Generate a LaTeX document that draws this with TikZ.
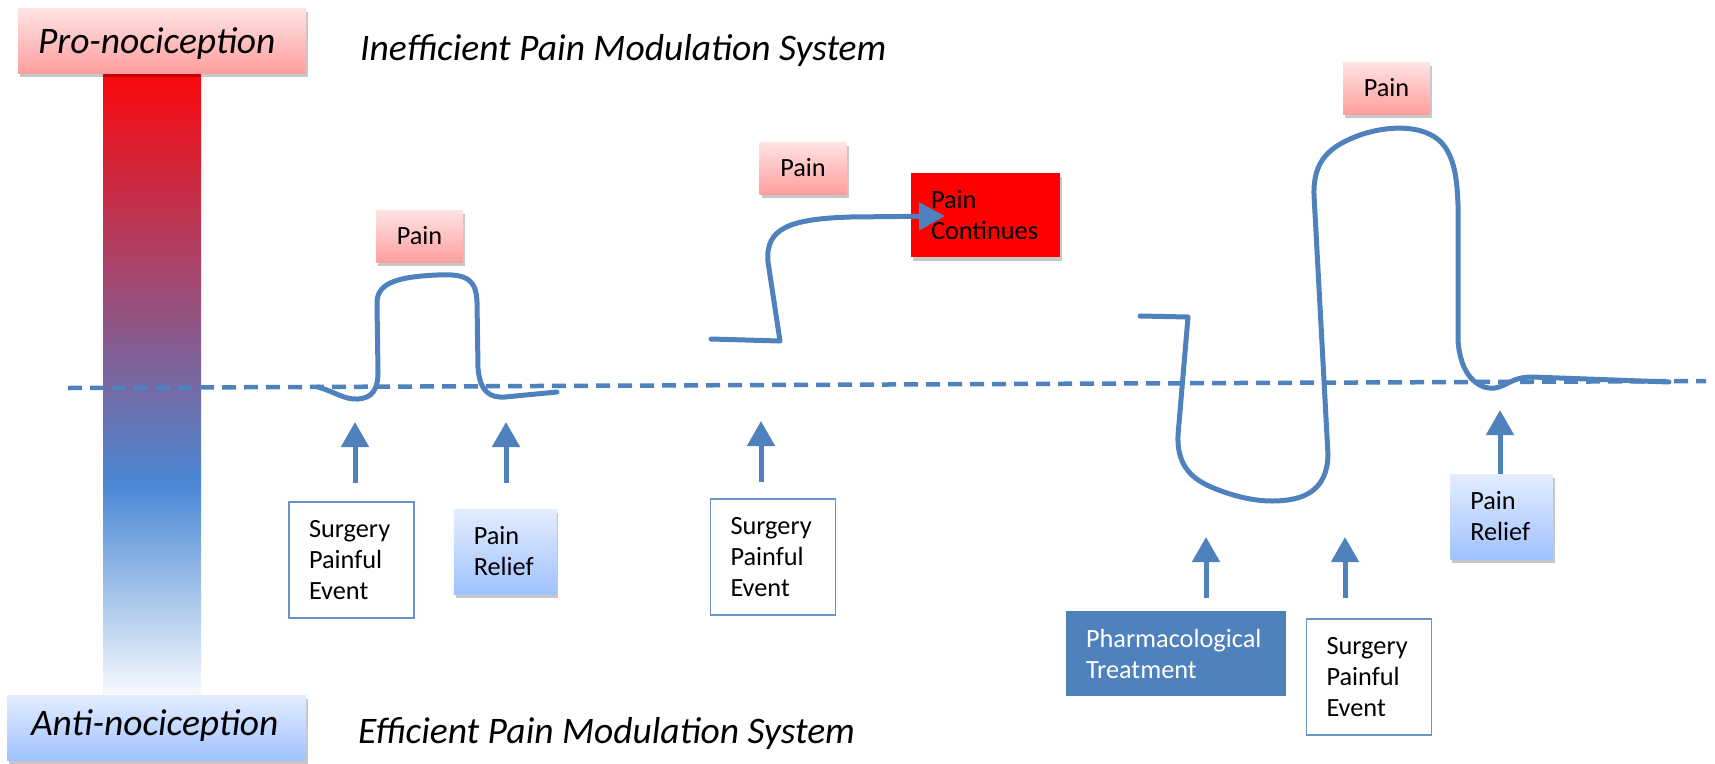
\documentclass[tikz,border=0pt]{standalone}
\usepackage{fontspec}
\setmainfont{Carlito}
\usetikzlibrary{arrows.meta,shadows}
\definecolor{lineblue}{RGB}{79,129,189}
\definecolor{pinktop}{RGB}{255,228,228}
\definecolor{pinkbot}{RGB}{255,158,158}
\definecolor{bluetop}{RGB}{228,237,255}
\definecolor{bluebot}{RGB}{160,194,255}
\definecolor{barred}{RGB}{252,6,10}
\definecolor{barblue}{RGB}{74,136,212}
\definecolor{barwhite}{RGB}{250,252,255}
\definecolor{boxred}{RGB}{255,0,0}
\pgfdeclareverticalshading{nocibar}{100bp}{color(0bp)=(barwhite); color(25bp)=(barwhite); color(42bp)=(barblue); color(75bp)=(barred); color(100bp)=(barred)}
\begin{document}
\begin{tikzpicture}[x=1pt,y=-1pt,
  txt/.style={font=\fontsize{26.3}{31}\selectfont},
  bigtxt/.style={font=\fontsize{37.5}{44}\selectfont\itshape},
  shd/.style={drop shadow={shadow xshift=2pt,shadow yshift=-4pt,opacity=0.22,fill=black}},
  painbox/.style={txt, shd, top color=pinktop, bottom color=pinkbot, minimum width=87pt, minimum height=52pt, inner sep=0pt},
  reliefbox/.style={txt, shd, top color=bluetop, bottom color=bluebot, inner xsep=20pt, align=left, text width=62.5pt, minimum height=85pt},
  eventbox/.style={txt, draw=lineblue!85, line width=1.3pt, fill=white, inner xsep=20pt, align=left, text width=85pt, minimum height=116pt},
  contbox/.style={txt, shd, fill=boxred, inner xsep=20pt, align=left, text width=109pt, minimum height=84pt},
  pharmabox/.style={txt, fill=lineblue, text=white, inner xsep=20pt, align=left, text width=180pt, minimum height=85pt},
  scalebox/.style={bigtxt, shd, inner ysep=0pt, minimum height=65pt, align=left},
  curve/.style={draw=lineblue, line width=5pt, line cap=round, line join=round},
  uparrow/.style={draw=lineblue, line width=5pt, -{Triangle[width=27pt,length=25pt]}},
  baseline/.style={draw=lineblue, line width=4.5pt, dash pattern=on 14pt off 8pt}
]
\useasboundingbox (0,0) rectangle (1715,763);

% gradient scale bar
\path[shading=nocibar] (103,70) rectangle (201,698);
\node[scalebox, top color=pinktop, bottom color=pinkbot, minimum width=288pt, inner xsep=20pt, text width=248pt, text height=27pt, text depth=2pt] (pro) at (162,40.5) {Pro-nociception};
\node[scalebox, top color=bluetop, bottom color=bluebot, minimum width=299pt, inner xsep=24pt, text width=251pt, text height=24pt, text depth=9pt] (anti) at (156.5,727.5) {Anti-nociception};

% titles
\node[bigtxt, anchor=base west, inner sep=0pt] (ineff) at (360,60) {Inefficient Pain Modulation System};
\node[bigtxt, anchor=base west, inner sep=0pt] (eff) at (358,743) {Efficient Pain Modulation System};

% baseline
\coordinate (bl) at (68,388);
\coordinate (br) at (1706,381);
\draw[baseline] (bl) -- (br);

% ---------- section 1 ----------
\node[painbox] (p1) at (419.5,236) {Pain};
\draw[curve] (318,387) .. controls (335,392) and (345,400) .. (358,399)
  .. controls (372,398) and (378,390) .. (378,372) -- (377,305)
  .. controls (376,285) and (392,277) .. (437,275)
  .. controls (470,273) and (476,282) .. (477,302) -- (478,368)
  .. controls (480,392) and (490,398) .. (505,397) -- (557,392);
\node[eventbox] (s1) at (351.5,560) {Surgery\\Painful\\Event};
\node[reliefbox] (r1) at (505,551.5) {Pain\\Relief};
\coordinate (a1b) at (355,483); \coordinate (a1t) at (355,422);
\coordinate (a2b) at (506,483); \coordinate (a2t) at (506,422);
\draw[uparrow] (a1b) -- (a1t);
\draw[uparrow] (a2b) -- (a2t);

% ---------- section 2 ----------
\node[painbox] (p2) at (803,168) {Pain};
\node[contbox] (cont) at (985.5,215) {Pain\\Continues};
\coordinate (cend) at (945,216);
\draw[curve, -{Triangle[width=27pt,length=26pt]}] (711,339) -- (780,341) -- (768,262)
  .. controls (765,228) and (790,219) .. (850,217) -- (cend);
\node[eventbox] (s2) at (773,557) {Surgery\\Painful\\Event};
\coordinate (a3b) at (761,482); \coordinate (a3t) at (761,421);
\draw[uparrow] (a3b) -- (a3t);

% ---------- section 3 ----------
\node[painbox] (p3) at (1386.5,88) {Pain};
\draw[curve] (1140,316) -- (1188,317) -- (1178,435)
  .. controls (1177,462) and (1188,477) .. (1211,487)
  .. controls (1235,497) and (1255,501) .. (1272,501)
  .. controls (1305,501) and (1327,490) .. (1328,455)
  -- (1314,195)
  .. controls (1313,160) and (1330,146) .. (1360,135)
  .. controls (1392,124) and (1430,125) .. (1445,147)
  .. controls (1455,162) and (1457,180) .. (1458,205) -- (1458,340)
  .. controls (1460,375) and (1478,390) .. (1495,388)
  .. controls (1507,386) and (1512,377) .. (1532,377) -- (1669,382);
\node[reliefbox] (r3) at (1501.5,516.5) {Pain\\Relief};
\node[pharmabox] (ph) at (1176,653.5) {Pharmacological\\Treatment};
\node[eventbox] (s3) at (1369,677) {Surgery\\Painful\\Event};
\coordinate (a4b) at (1206,598); \coordinate (a4t) at (1206,537);
\coordinate (a5b) at (1345,598); \coordinate (a5t) at (1345,537);
\coordinate (a6t) at (1500,410);
\draw[uparrow] (a4b) -- (a4t);
\draw[uparrow] (a5b) -- (a5t);
\draw[uparrow] (r3.north -| a6t) -- (a6t);
\end{tikzpicture}
\end{document}
